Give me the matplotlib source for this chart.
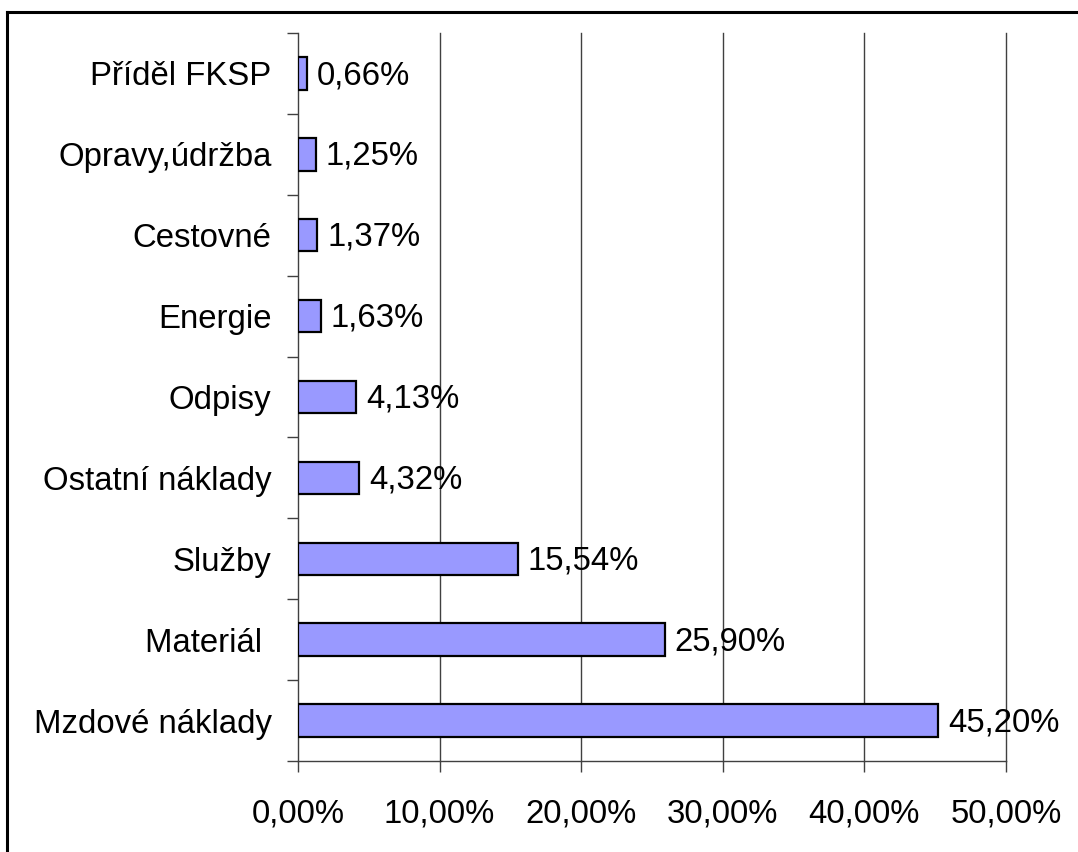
import matplotlib
matplotlib.use("Agg")
import matplotlib.pyplot as plt
from matplotlib.lines import Line2D

categories = ["Mzdové náklady", "Materiál ", "Služby", "Ostatní náklady", "Odpisy",
              "Energie", "Cestovné", "Opravy,údržba", "Příděl FKSP"]
values = [45.20, 25.90, 15.54, 4.32, 4.13, 1.63, 1.37, 1.25, 0.66]
x_ticks = [0, 10, 20, 30, 40, 50]

plt.rcParams['font.family'] = ['Liberation Sans', 'DejaVu Sans']
FS = 23.7

W, H = 1078, 852
fig = plt.figure(figsize=(W / 100, H / 100), dpi=100)
ax = fig.add_axes([298 / W, 1 - 761 / H, (1006 - 298) / W, (761 - 33) / H])

ypos = list(range(len(categories)))
ax.barh(ypos, values, height=0.4, color='#9999FF', edgecolor='black', linewidth=1.6, zorder=3)
for y, v in zip(ypos, values):
    ax.annotate(f"{v:.2f}%".replace('.', ','), (v, y), xytext=(7, -1.5), textcoords='offset points',
                va='center', ha='left', fontsize=FS, zorder=4)

ax.set_xlim(0, 50)
ax.set_ylim(-0.5, len(categories) - 0.5)
ax.set_xticks(x_ticks)
ax.set_xticklabels([f"{t:.2f}%".replace('.', ',') for t in x_ticks], fontsize=FS)
ax.set_yticks(ypos)
ax.set_yticklabels(categories, fontsize=FS)
ax.set_yticks([y - 0.5 for y in range(len(categories) + 1)], minor=True)
ax.tick_params(axis='y', which='major', length=0, pad=19)
ax.tick_params(axis='y', which='minor', length=8, width=1, color='#404040', direction='out')
ax.tick_params(axis='x', length=8, width=1, color='#404040', direction='out', pad=19)
for t in x_ticks[1:]:
    ax.axvline(t, color='#404040', linewidth=1, zorder=0, clip_on=False)
for s in ['top', 'right']:
    ax.spines[s].set_visible(False)
for s in ['left', 'bottom']:
    ax.spines[s].set_color('#404040')
    ax.spines[s].set_linewidth(1)

# figure border (top and left)
fig.add_artist(Line2D([7 / W, 7 / W], [0, 1 - 12 / H], transform=fig.transFigure, color='black', lw=2.2))
fig.add_artist(Line2D([7 / W, 1], [1 - 12 / H, 1 - 12 / H], transform=fig.transFigure, color='black', lw=2.2))

fig.savefig("out.png", dpi=100)
